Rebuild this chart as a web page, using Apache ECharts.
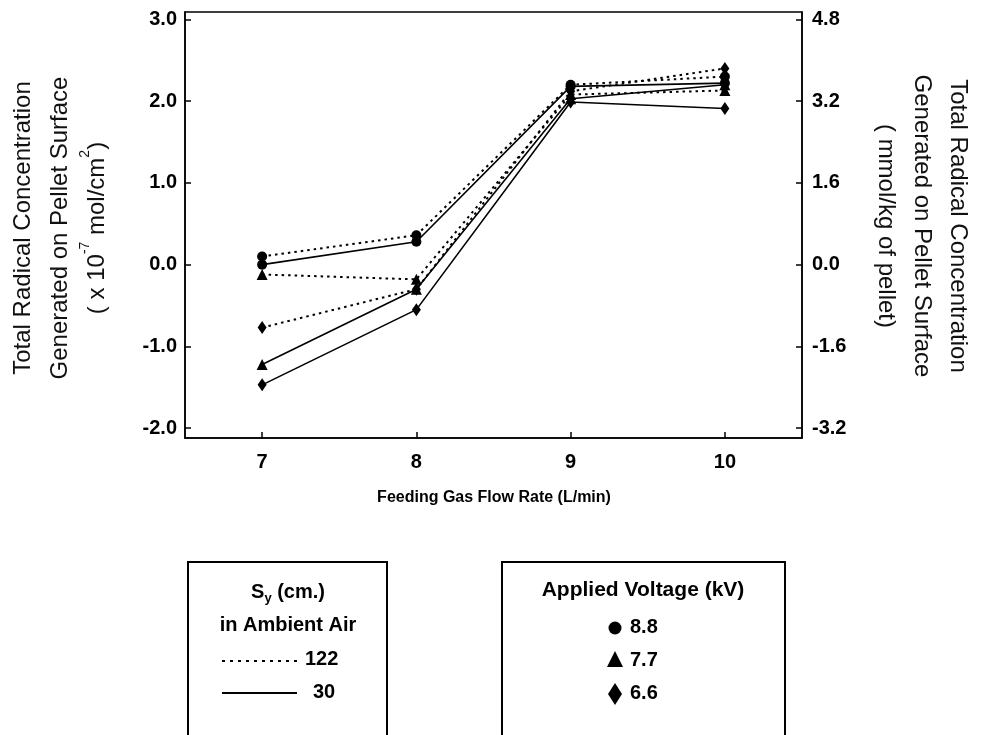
<!DOCTYPE html>
<html><head><meta charset="utf-8">
<script src="https://cdn.jsdelivr.net/npm/echarts@6/dist/echarts.min.js"></script>
<style>html,body{margin:0;padding:0;background:#fff}#c{width:982px;height:735px}</style>
</head><body><div id="c"></div>
<script>
// ---- data ----
const flowRates = [7, 8, 9, 10];
const xTicks = [7, 8, 9, 10];
const leftTicks = [-2, -1, 0, 1, 2, 3];
const rightTicks = [-3.2, -1.6, 0, 1.6, 3.2, 4.8];
// Applied voltage 8.8 kV
const v88_sy122 = [0.10, 0.36, 2.20, 2.30];
const v88_sy30  = [0.00, 0.28, 2.18, 2.22];
// Applied voltage 7.7 kV
const v77_sy122 = [-0.12, -0.18, 2.08, 2.13];
const v77_sy30  = [-1.22, -0.30, 2.03, 2.20];
// Applied voltage 6.6 kV
const v66_sy122 = [-0.77, -0.30, 2.12, 2.40];
const v66_sy30  = [-1.47, -0.55, 1.99, 1.91];
const voltLabels = ['8.8', '7.7', '6.6'];
const syLabels = ['122', '30'];

const FONT = 'Liberation Sans, Arial, Helvetica, sans-serif';
const chart = echarts.init(document.getElementById('c'), null, {renderer: 'canvas'});

function pts(arr) { return flowRates.map((x, i) => [x, arr[i]]); }
function mk(name, arr, symbol, size, dotted) {
  return {
    name: name, type: 'line', data: pts(arr), symbol: symbol, symbolSize: size,
    itemStyle: {color: '#000'},
    lineStyle: {color: '#000', width: dotted ? 2 : 1.6, type: dotted ? [2.5, 4] : 'solid'},
    emphasis: {disabled: true}, animation: false, z: dotted ? 3 : 4
  };
}

const series = [
  mk('8.8/122', v88_sy122, 'circle', 10, true),
  mk('8.8/30', v88_sy30, 'circle', 10, false),
  mk('7.7/122', v77_sy122, 'triangle', 11, true),
  mk('7.7/30', v77_sy30, 'triangle', 11, false),
  mk('6.6/122', v66_sy122, 'diamond', [9, 13], true),
  mk('6.6/30', v66_sy30, 'diamond', [9, 13], false)
];

const tickLabelStyle = {color: '#000', fontFamily: FONT, fontSize: 20, fontWeight: 'bold'};

const option = {
  backgroundColor: '#fff',
  animation: false,
  grid: {left: 185, right: 180, top: 12, bottom: 297, show: true, borderColor: '#000', borderWidth: 1.5, backgroundColor: 'transparent'},
  xAxis: {
    type: 'value', min: 6.5, max: 10.5,
    axisLine: {show: true, onZero: false, lineStyle: {color: '#000', width: 1.5}},
    axisTick: {show: true, inside: true, length: 6, customValues: xTicks, lineStyle: {color: '#000', width: 1.5}},
    axisLabel: Object.assign({customValues: xTicks, margin: 14, formatter: v => String(v)}, tickLabelStyle),
    splitLine: {show: false}
  },
  yAxis: [
    {
      type: 'value', min: -2.12, max: 3.09, position: 'left',
      axisLine: {show: true, onZero: false, lineStyle: {color: '#000', width: 1.5}},
      axisTick: {show: true, inside: true, length: 6, customValues: leftTicks, lineStyle: {color: '#000', width: 1.5}},
      axisLabel: Object.assign({customValues: leftTicks, margin: 8, formatter: v => v.toFixed(1)}, tickLabelStyle),
      splitLine: {show: false}
    },
    {
      type: 'value', min: -2.12 * 1.6, max: 3.09 * 1.6, position: 'right',
      axisLine: {show: true, onZero: false, lineStyle: {color: '#000', width: 1.5}},
      axisTick: {show: true, inside: true, length: 6, customValues: rightTicks, lineStyle: {color: '#000', width: 1.5}},
      axisLabel: Object.assign({customValues: rightTicks, margin: 10, formatter: v => v.toFixed(1)}, tickLabelStyle),
      splitLine: {show: false}
    }
  ],
  series: series,
  graphic: [
    // left axis title
    {type: 'text', x: 60, y: 228, rotation: Math.PI / 2, silent: true, style: {
      text: 'Total Radical Concentration\nGenerated on Pellet Surface\n( x 10{sup|-7} mol/cm{sup|2})',
      fontFamily: FONT, fontSize: 24, fill: '#111', align: 'center', verticalAlign: 'middle', lineHeight: 37,
      rich: {sup: {fontFamily: FONT, fontSize: 14, fill: '#111', verticalAlign: 'top', lineHeight: 26}}
    }},
    // right axis title
    {type: 'text', x: 922, y: 226, rotation: -Math.PI / 2, silent: true, style: {
      text: 'Total Radical Concentration\nGenerated on Pellet Surface\n( mmol/kg of pellet)',
      fontFamily: FONT, fontSize: 24, fill: '#111', align: 'center', verticalAlign: 'middle', lineHeight: 36
    }},
    // x axis title
    {type: 'text', x: 494, y: 498, silent: true, style: {
      text: 'Feeding Gas Flow Rate (L/min)', fontFamily: FONT, fontSize: 16, fontWeight: 'bold', fill: '#000',
      align: 'center', verticalAlign: 'middle'
    }},
    // legend box 1
    {type: 'rect', silent: true, shape: {x: 188, y: 562, width: 199, height: 200}, style: {fill: 'none', stroke: '#000', lineWidth: 2}},
    {type: 'text', x: 288, y: 592, silent: true, style: {
      text: '{b|S}{s|y}{b| (cm.)}', align: 'center', verticalAlign: 'middle',
      rich: {
        b: {fontFamily: FONT, fontSize: 20, fontWeight: 'bold', fill: '#000', lineHeight: 26, verticalAlign: 'middle'},
        s: {fontFamily: FONT, fontSize: 13, fontWeight: 'bold', fill: '#000', lineHeight: 14, verticalAlign: 'bottom'}
      }
    }},
    {type: 'text', x: 288, y: 625, silent: true, style: {
      text: 'in Ambient Air', fontFamily: FONT, fontSize: 20, fontWeight: 'bold', fill: '#000', align: 'center', verticalAlign: 'middle'
    }},
    {type: 'line', silent: true, shape: {x1: 222, y1: 661, x2: 299, y2: 661}, style: {stroke: '#000', lineWidth: 2, lineDash: [3, 5]}},
    {type: 'text', x: 305, y: 659, silent: true, style: {
      text: syLabels[0], fontFamily: FONT, fontSize: 20, fontWeight: 'bold', fill: '#000', align: 'left', verticalAlign: 'middle'
    }},
    {type: 'line', silent: true, shape: {x1: 222, y1: 693, x2: 297, y2: 693}, style: {stroke: '#000', lineWidth: 2}},
    {type: 'text', x: 313, y: 692, silent: true, style: {
      text: syLabels[1], fontFamily: FONT, fontSize: 20, fontWeight: 'bold', fill: '#000', align: 'left', verticalAlign: 'middle'
    }},
    // legend box 2
    {type: 'rect', silent: true, shape: {x: 502, y: 562, width: 283, height: 200}, style: {fill: 'none', stroke: '#000', lineWidth: 2}},
    {type: 'text', x: 643, y: 590, silent: true, style: {
      text: 'Applied Voltage (kV)', fontFamily: FONT, fontSize: 21, fontWeight: 'bold', fill: '#000', align: 'center', verticalAlign: 'middle'
    }},
    {type: 'circle', silent: true, shape: {cx: 615, cy: 628, r: 6.5}, style: {fill: '#000'}},
    {type: 'text', x: 630, y: 627, silent: true, style: {
      text: voltLabels[0], fontFamily: FONT, fontSize: 20, fontWeight: 'bold', fill: '#000', align: 'left', verticalAlign: 'middle'
    }},
    {type: 'polygon', silent: true, shape: {points: [[615, 651], [623, 667], [607, 667]]}, style: {fill: '#000'}},
    {type: 'text', x: 630, y: 660, silent: true, style: {
      text: voltLabels[1], fontFamily: FONT, fontSize: 20, fontWeight: 'bold', fill: '#000', align: 'left', verticalAlign: 'middle'
    }},
    {type: 'polygon', silent: true, shape: {points: [[615, 683], [622, 694], [615, 705], [608, 694]]}, style: {fill: '#000'}},
    {type: 'text', x: 630, y: 693, silent: true, style: {
      text: voltLabels[2], fontFamily: FONT, fontSize: 20, fontWeight: 'bold', fill: '#000', align: 'left', verticalAlign: 'middle'
    }}
  ]
};
chart.setOption(option);
</script>
</body></html>
